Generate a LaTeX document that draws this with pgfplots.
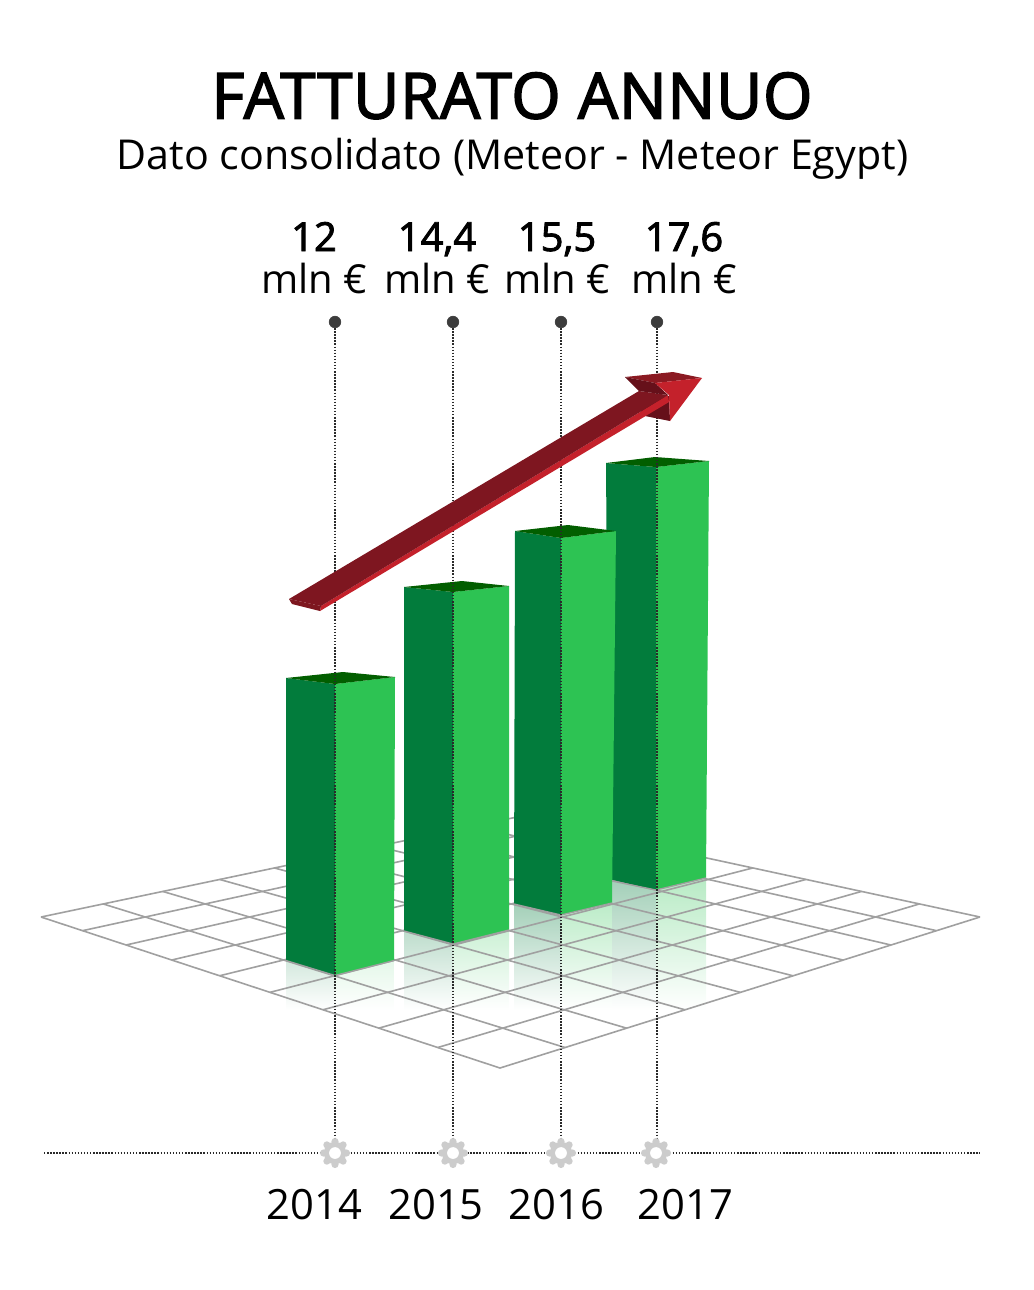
\documentclass[border=0pt]{standalone}
\usepackage{fontspec}
\setmainfont{Open Sans}
\newfontfamily\osemi[FakeBold=2.2]{Open Sans}
\newfontfamily\otitle[FakeBold=2.6,LetterSpace=1.2]{Open Sans}
\usepackage{pgfplots}
\pgfplotsset{compat=1.18}
\usetikzlibrary{shadings}
\definecolor{gdark}{HTML}{027C3C}
\definecolor{glight}{HTML}{2DC353}
\definecolor{gtop}{HTML}{025E00}
\definecolor{gridc}{HTML}{A0A0A0}
\definecolor{dotc}{HTML}{2A2A2A}
\definecolor{markc}{HTML}{3C3C3C}
\definecolor{gearc}{HTML}{CCCCCC}
\definecolor{redA}{HTML}{7E1620}
\definecolor{redB}{HTML}{C4212B}
\definecolor{redC}{HTML}{66101A}
\definecolor{redD}{HTML}{8B1A22}
\tikzset{
  grd/.style={draw=gridc, line width=1.2pt},
  dotl/.style={draw=dotc, line width=0.95pt, dash pattern=on 1.1pt off 1.2pt},
  lab/.style={anchor=base, inner sep=0pt, font=\fontsize{30}{36}\selectfont, text=black},
}
\pgfdeclareplotmark{gear}{%
  \pgfsetfillcolor{gearc}%
  \pgfpathcircle{\pgfpointorigin}{8.4pt}%
  \foreach \a in {0,45,...,315}{\pgfpathcircle{\pgfpointpolar{\a}{8.6pt}}{2.7pt}}%
  \pgfusepath{fill}%
  \pgfsetfillcolor{white}%
  \pgfpathcircle{\pgfpointorigin}{4.4pt}%
  \pgfusepath{fill}%
}
\begin{document}
\begin{tikzpicture}
\begin{axis}[
  scale only axis, width=775.5pt, height=967.5pt,
  xmin=0, xmax=1034, ymin=0, ymax=1290, y dir=reverse,
  axis lines=none, clip=true,
]
% invisible frame
\addplot[draw=none] coordinates {(0,0)(1034,1290)};
% reflections
\addplot[draw=none, shade, top color=gdark!17, bottom color=white] coordinates {(286,961)(335,976)(335,1010)(286,1010)} -- cycle;
\addplot[draw=none, shade, top color=glight!13, bottom color=white] coordinates {(335,976)(394,960)(394,1010)(335,1010)} -- cycle;
\addplot[draw=none, shade, top color=gdark!26, bottom color=white] coordinates {(404,931)(453,944)(453,1010)(404,1010)} -- cycle;
\addplot[draw=none, shade, top color=glight!24, bottom color=white] coordinates {(453,944)(509,930)(509,1010)(453,1010)} -- cycle;
\addplot[draw=none, shade, top color=gdark!36, bottom color=white] coordinates {(514,904)(561,915)(561,1010)(514,1010)} -- cycle;
\addplot[draw=none, shade, top color=glight!32, bottom color=white] coordinates {(561,915)(612,903)(612,1010)(561,1010)} -- cycle;
\addplot[draw=none, shade, top color=gdark!36, bottom color=white] coordinates {(612,881)(656,890)(656,1010)(612,1010)} -- cycle;
\addplot[draw=none, shade, top color=glight!34, bottom color=white] coordinates {(656,890)(706,878)(706,1010)(656,1010)} -- cycle;
% grid
\addplot[grd] coordinates {(41,917)(517,817)};
\addplot[grd] coordinates {(82.55,930.67)(560.56,826.40)};
\addplot[grd] coordinates {(126.08,944.99)(605.81,836.18)};
\addplot[grd] coordinates {(171.71,960.0)(652.87,846.33)};
\addplot[grd] coordinates {(219.62,975.76)(701.84,856.91)};
\addplot[grd] coordinates {(269.98,992.33)(752.85,867.94)};
\addplot[grd] coordinates {(322.97,1009.76)(806.03,879.42)};
\addplot[grd] coordinates {(378.80,1028.13)(861.51,891.41)};
\addplot[grd] coordinates {(437.73,1047.50)(919.44,903.91)};
\addplot[grd] coordinates {(500,1068)(980,917)};
\addplot[grd] coordinates {(41,917)(500,1068)};
\addplot[grd] coordinates {(103.2,903.93)(565.06,1047.53)};
\addplot[grd] coordinates {(162.72,891.43)(626.64,1028.16)};
\addplot[grd] coordinates {(219.73,879.45)(685.0,1009.80)};
\addplot[grd] coordinates {(274.39,867.96)(740.41,992.36)};
\addplot[grd] coordinates {(326.84,856.94)(793.07,975.79)};
\addplot[grd] coordinates {(377.21,846.36)(843.19,960.04)};
\addplot[grd] coordinates {(425.62,836.19)(890.94,945.0)};
\addplot[grd] coordinates {(472.18,826.41)(936.49,930.67)};
\addplot[grd] coordinates {(517,817)(980,917)};
% bar 2017
\addplot[draw=none, fill=gdark] coordinates {(606,463)(656,467)(656,890)(609,879)} -- cycle;
\addplot[draw=none, fill=glight] coordinates {(656,467)(709,461)(706,878)(656,890)} -- cycle;
\addplot[draw=none, fill=gtop] coordinates {(606,463)(655,457)(709,461)(656,467)} -- cycle;
\addplot[draw=gridc, line width=1pt] coordinates {(612,881)(656,890)(706,878)};
% bar 2016
\addplot[draw=none, fill=gdark] coordinates {(515,531)(561,538)(561,915)(514,904)} -- cycle;
\addplot[draw=none, fill=glight] coordinates {(561,538)(616,531)(612,903)(561,915)} -- cycle;
\addplot[draw=none, fill=gtop] coordinates {(515,531)(568,525)(616,531)(561,538)} -- cycle;
\addplot[draw=gridc, line width=1pt] coordinates {(514,904)(561,915)(612,903)};
% bar 2015
\addplot[draw=none, fill=gdark] coordinates {(404,587)(453,592)(453,944)(404,931)} -- cycle;
\addplot[draw=none, fill=glight] coordinates {(453,592)(509,586)(509,930)(453,944)} -- cycle;
\addplot[draw=none, fill=gtop] coordinates {(404,587)(462,581)(509,586)(453,592)} -- cycle;
\addplot[draw=gridc, line width=1pt] coordinates {(404,931)(453,944)(509,930)};
% bar 2014
\addplot[draw=none, fill=gdark] coordinates {(286,678)(335,684)(335,975.5)(286,960.5)} -- cycle;
\addplot[draw=none, fill=glight] coordinates {(335,684)(395,677)(394,960.5)(335,975.5)} -- cycle;
\addplot[draw=none, fill=gtop] coordinates {(286,678)(343,672)(395,677)(335,684)} -- cycle;
\addplot[draw=gridc, line width=1pt] coordinates {(286,960.5)(335,975.5)(394,960.5)};
% leader lines
\addplot[dotl] coordinates {(335,322)(335,1140)};
\addplot[dotl] coordinates {(453,322)(453,1140)};
\addplot[dotl] coordinates {(561,322)(561,1140)};
\addplot[dotl] coordinates {(657,322)(657,1140)};
\addplot[dotl] coordinates {(44,1153)(980,1153)};
\addplot[only marks, mark=*, mark size=4.4pt, mark options={draw=markc, fill=markc}] coordinates {(335,322)(453,322)(561,322)(657,322)};
\addplot[only marks, mark=gear, mark options={draw=none}] coordinates {(335,1153)(453,1153)(561,1153)(656,1153)};
% arrow
\addplot[draw=none, fill=redC] coordinates {(645,416)(670,421)(669,396)(630,400)} -- cycle;
\addplot[draw=none, fill=redB] coordinates {(320,611)(321,606)(668,395)(669,402)} -- cycle;
\addplot[draw=none, fill=redA] coordinates {(289,599)(639,391)(668,395)(321,606)} -- cycle;
\addplot[draw=none, fill=redD!90!black] coordinates {(289,599)(321,606)(320,611)(292,604)} -- cycle;
\addplot[draw=none, fill=redD] coordinates {(625,377)(673,372)(702,378)(655,383)} -- cycle;
\addplot[draw=none, fill=redC] coordinates {(625,377)(655,383)(668,395)(639,391)} -- cycle;
\addplot[draw=none, fill=redB] coordinates {(655,383)(702,378)(670,421)(669,395)} -- cycle;
% text
\node[anchor=base, inner sep=0pt, font=\otitle\fontsize{47.6}{56}\selectfont, text=black] at (axis cs:512,118.5) {FATTURATO ANNUO};
\node[anchor=base, inner sep=0pt, font=\fontsize{30.9}{38}\selectfont, text=black] at (axis cs:512.5,169.5) {Dato consolidato (Meteor - Meteor Egypt)};
\node[lab, font=\osemi\fontsize{30}{36}\selectfont] at (axis cs:314,251) {12};
\node[lab, font=\osemi\fontsize{30}{36}\selectfont] at (axis cs:437,251) {14,4};
\node[lab, font=\osemi\fontsize{30}{36}\selectfont] at (axis cs:557,251) {15,5};
\node[lab, font=\osemi\fontsize{30}{36}\selectfont] at (axis cs:684,251) {17,6};
\node[lab] at (axis cs:314,293) {mln €};
\node[lab] at (axis cs:437,293) {mln €};
\node[lab] at (axis cs:557,293) {mln €};
\node[lab] at (axis cs:684,293) {mln €};
\node[lab, font=\fontsize{31.3}{38}\selectfont] at (axis cs:314.5,1219) {2014};
\node[lab, font=\fontsize{31.3}{38}\selectfont] at (axis cs:436,1219) {2015};
\node[lab, font=\fontsize{31.3}{38}\selectfont] at (axis cs:556.5,1219) {2016};
\node[lab, font=\fontsize{31.3}{38}\selectfont] at (axis cs:685.5,1219) {2017};
\end{axis}
\end{tikzpicture}
\end{document}
